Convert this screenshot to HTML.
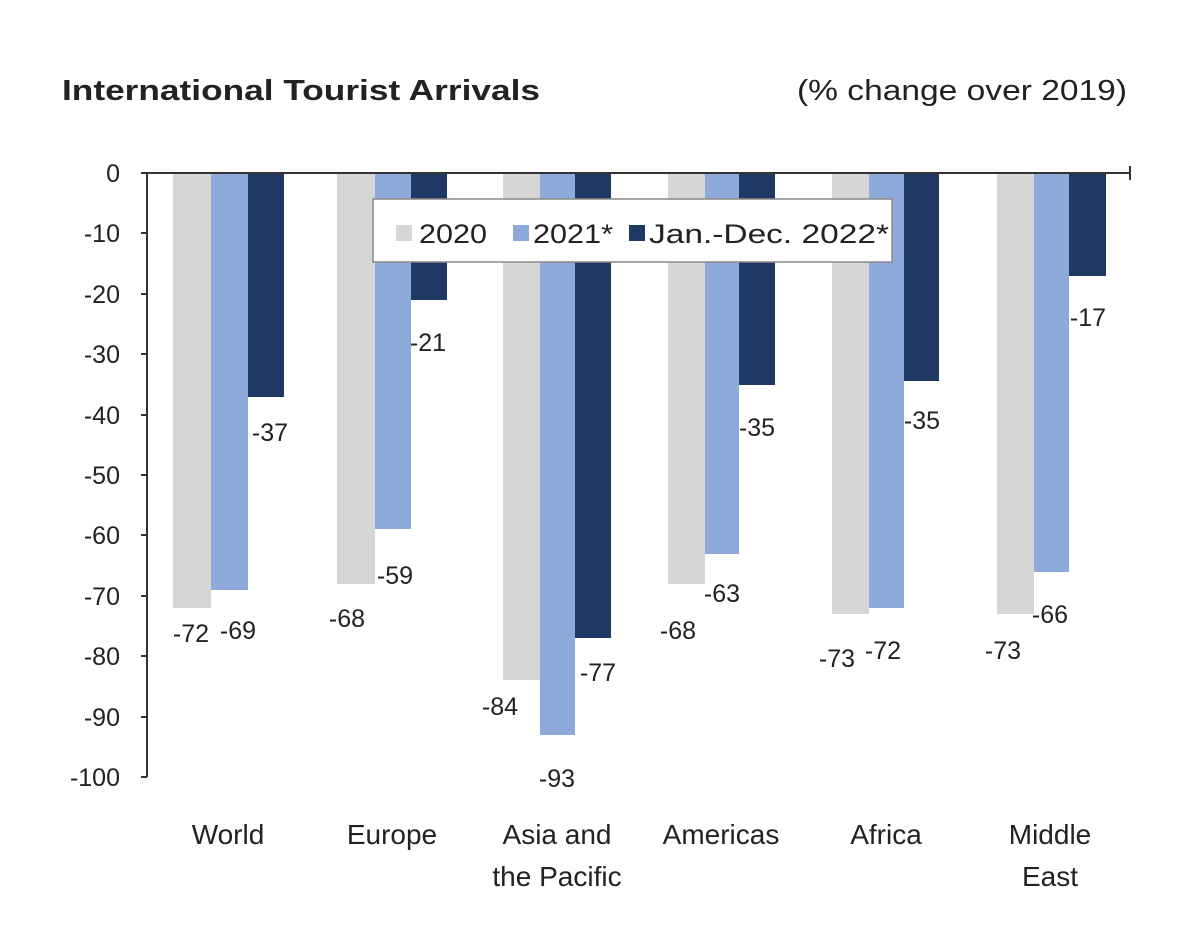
<!DOCTYPE html>
<html><head><style>body{margin:0;background:#fff}svg{display:block}text{font-family:"Liberation Sans",Arial,sans-serif;fill:#222}</style></head><body>
<svg width="1200" height="938" xmlns="http://www.w3.org/2000/svg">
<text x="62" y="100" font-size="29" font-weight="bold" textLength="478" lengthAdjust="spacingAndGlyphs">International Tourist Arrivals</text>
<text x="797" y="100" font-size="29" textLength="330" lengthAdjust="spacingAndGlyphs">(% change over 2019)</text>
<g fill="#d6d6d6">
<rect x="173" y="173" width="38" height="435"/><rect x="337" y="173" width="38" height="411"/><rect x="503" y="173" width="37" height="507"/><rect x="668" y="173" width="37" height="411"/><rect x="832" y="173" width="37" height="441"/><rect x="997" y="173" width="37" height="441"/></g>
<g fill="#8eaadb">
<rect x="211" y="173" width="37" height="417"/><rect x="375" y="173" width="36" height="356"/><rect x="540" y="173" width="35" height="562"/><rect x="705" y="173" width="34" height="381"/><rect x="869" y="173" width="35" height="435"/><rect x="1034" y="173" width="35" height="399"/></g>
<g fill="#1f3864">
<rect x="248" y="173" width="36" height="224"/><rect x="411" y="173" width="36" height="127"/><rect x="575" y="173" width="36" height="465"/><rect x="739" y="173" width="36" height="212"/><rect x="904" y="173" width="35" height="208"/><rect x="1069" y="173" width="37" height="103"/></g>
<g stroke="#333" stroke-width="2"><line x1="147" y1="173" x2="1130" y2="173"/><line x1="147" y1="173" x2="147" y2="777"/><line x1="1130" y1="166" x2="1130" y2="180"/>
<line x1="141" y1="173" x2="147" y2="173"/><line x1="141" y1="233" x2="147" y2="233"/><line x1="141" y1="294" x2="147" y2="294"/><line x1="141" y1="354" x2="147" y2="354"/><line x1="141" y1="415" x2="147" y2="415"/><line x1="141" y1="475" x2="147" y2="475"/><line x1="141" y1="535" x2="147" y2="535"/><line x1="141" y1="596" x2="147" y2="596"/><line x1="141" y1="656" x2="147" y2="656"/><line x1="141" y1="717" x2="147" y2="717"/><line x1="141" y1="777" x2="147" y2="777"/></g>
<g font-size="25" text-anchor="end">
<text x="120" y="182">0</text><text x="120" y="242">-10</text><text x="120" y="303">-20</text><text x="120" y="363">-30</text><text x="120" y="424">-40</text><text x="120" y="484">-50</text><text x="120" y="544">-60</text><text x="120" y="605">-70</text><text x="120" y="665">-80</text><text x="120" y="726">-90</text><text x="120" y="786">-100</text></g>
<g font-size="25" text-anchor="middle">
<text x="191" y="642">-72</text><text x="238" y="639">-69</text><text x="270" y="441">-37</text>
<text x="347" y="627">-68</text><text x="395" y="584">-59</text><text x="428" y="351">-21</text>
<text x="500" y="715">-84</text><text x="557" y="787">-93</text><text x="598" y="681">-77</text>
<text x="678" y="639">-68</text><text x="722" y="602">-63</text><text x="757" y="436">-35</text>
<text x="837" y="667">-73</text><text x="883" y="659">-72</text><text x="922" y="429">-35</text>
<text x="1003" y="659">-73</text><text x="1050" y="623">-66</text><text x="1088" y="326">-17</text>
<g font-size="28"><text x="228" y="844">World</text><text x="392" y="844">Europe</text><text x="557" y="844">Asia and</text><text x="557" y="886">the Pacific</text><text x="721" y="844">Americas</text><text x="886" y="844">Africa</text><text x="1050" y="844">Middle</text><text x="1050" y="886">East</text></g></g>
<rect x="373" y="199" width="519" height="63" fill="#fff" stroke="#888" stroke-width="1.5"/>
<rect x="396" y="225" width="16" height="16" fill="#d6d6d6"/><text x="419" y="243" font-size="27" textLength="68" lengthAdjust="spacingAndGlyphs">2020</text>
<rect x="513" y="225" width="16" height="16" fill="#8eaadb"/><text x="533" y="243" font-size="27" textLength="80" lengthAdjust="spacingAndGlyphs">2021*</text>
<rect x="629" y="225" width="16" height="16" fill="#1f3864"/><text x="649" y="243" font-size="27" textLength="240" lengthAdjust="spacingAndGlyphs">Jan.-Dec. 2022*</text>
</svg></body></html>
